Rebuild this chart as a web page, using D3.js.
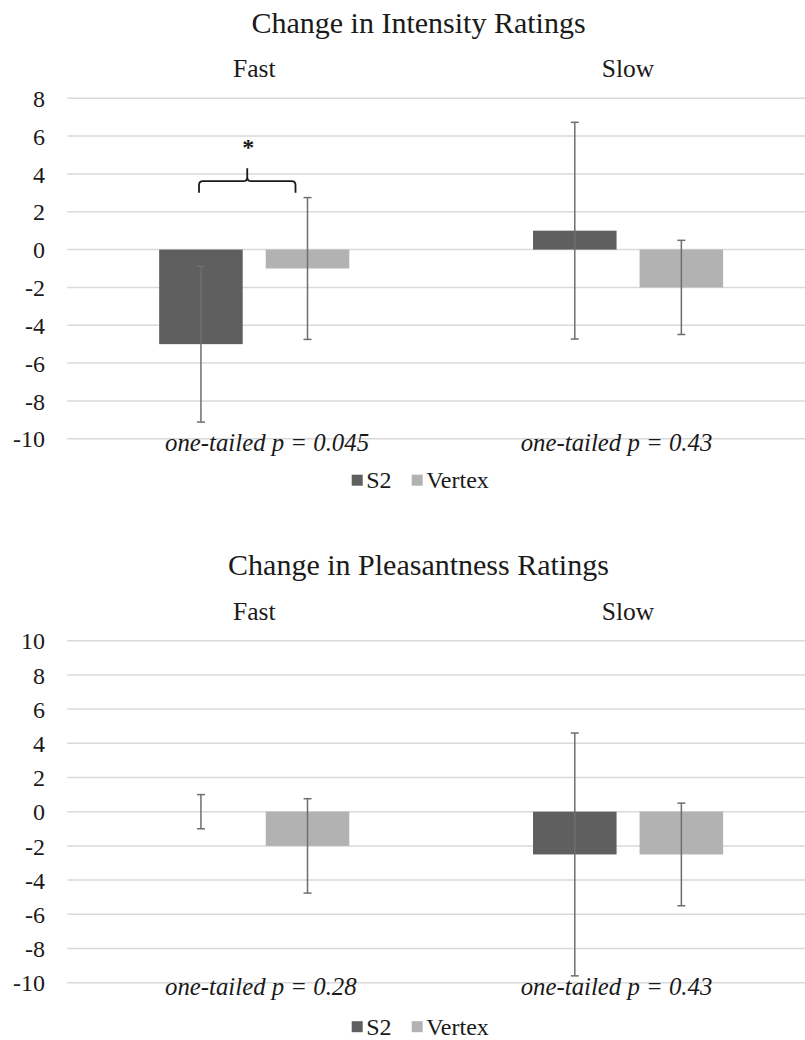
<!DOCTYPE html>
<html>
<head>
<meta charset="utf-8">
<script src="https://cdn.jsdelivr.net/npm/d3@7"></script>
<style>
	body { margin: 0; background: #fff; }
	svg { display: block; }
</style>
</head>
<body>
<div id="chart"></div>
<script>
"use strict";

// values
var categories = ["Fast", "Slow"];
var series = ["S2", "Vertex"];

var intensityTicks = [-10, -8, -6, -4, -2, 0, 2, 4, 6, 8];
var intensityS2 = [-5, 1];
var intensityS2Err = [4.12, 5.73];
var intensityVertex = [-1, -2];
var intensityVertexErr = [3.75, 2.49];
var intensityP = ["one-tailed p = 0.045", "one-tailed p = 0.43"];

var pleasantTicks = [-10, -8, -6, -4, -2, 0, 2, 4, 6, 8, 10];
var pleasantS2 = [0, -2.5];
var pleasantS2Err = [1, 7.1];
var pleasantVertex = [-2, -2.5];
var pleasantVertexErr = [2.76, 3.0];
var pleasantP = ["one-tailed p = 0.28", "one-tailed p = 0.43"];

var colors = {"S2": "#5f5f5f", "Vertex": "#b2b2b2"};
var serif = "'Liberation Serif', 'Times New Roman', serif";

var svg = d3.select("#chart").append("svg")
	.attr("width", 805).attr("height", 1040)
	.attr("font-family", serif);

function drawPanel(opt) {
	var g = svg.append("g");

	var y = d3.scaleLinear().domain([opt.ticks[0], opt.ticks[opt.ticks.length - 1]])
		.range([opt.bottom, opt.top]);
	var x0 = d3.scaleBand().domain(categories).range([67.3, 815]).padding(0);
	var x1 = d3.scaleBand().domain(series).range([0, x0.bandwidth()])
		.paddingInner(0.216).paddingOuter(0.862);

	// gridlines
	g.selectAll(".grid")
		.data(opt.ticks)
		.enter().append("line")
		.attr("x1", 67.3).attr("x2", 805)
		.attr("y1", function(d) { return y(d); })
		.attr("y2", function(d) { return y(d); })
		.attr("stroke", "#d9d9d9")
		.attr("stroke-width", 1.5);

	// y axis labels (plain hyphen minus like the original)
	var axis = g.append("g")
		.attr("transform", "translate(45,0)")
		.call(d3.axisLeft(y).tickValues(opt.ticks).tickSize(0).tickPadding(0)
			.tickFormat(function(d) { return String(d); }));
	axis.attr("font-family", serif).attr("font-size", 24);
	axis.select(".domain").remove();
	axis.selectAll("text")
		.attr("fill", "#1a1a1a")
		.attr("dy", "0.34em");

	// title
	g.append("text")
		.attr("x", 418.5).attr("y", opt.titleY)
		.attr("text-anchor", "middle")
		.attr("font-size", 30)
		.attr("fill", "#1a1a1a")
		.text(opt.title);

	// category labels along the top
	g.selectAll(".cat")
		.data(categories)
		.enter().append("text")
		.attr("x", function(d) { return x0(d) + x0.bandwidth() / 2; })
		.attr("y", y(opt.ticks[opt.ticks.length - 1]) - 21)
		.attr("text-anchor", "middle")
		.attr("font-size", 25.5)
		.attr("fill", "#1a1a1a")
		.text(function(d) { return d; });

	var rows = [];
	categories.forEach(function(c, i) {
		rows.push({cat: c, s: "S2", v: opt.s2[i], e: opt.s2Err[i]});
		rows.push({cat: c, s: "Vertex", v: opt.vx[i], e: opt.vxErr[i]});
	});

	var grp = g.selectAll(".bar")
		.data(rows)
		.enter().append("g")
		.attr("transform", function(d) { return "translate(" + x0(d.cat) + ",0)"; });

	grp.append("rect")
		.attr("x", function(d) { return x1(d.s); })
		.attr("width", x1.bandwidth())
		.attr("y", function(d) { return y(Math.max(0, d.v)); })
		.attr("height", function(d) { return Math.abs(y(d.v) - y(0)); })
		.attr("fill", function(d) { return colors[d.s]; });

	// error bars
	var cx = function(d) { return x1(d.s) + x1.bandwidth() / 2; };
	grp.append("line")
		.attr("x1", cx).attr("x2", cx)
		.attr("y1", function(d) { return y(d.v + d.e); })
		.attr("y2", function(d) { return y(d.v - d.e); })
		.attr("stroke", "#6e6e6e").attr("stroke-width", 1.5);
	[1, -1].forEach(function(sign) {
		grp.append("line")
			.attr("x1", function(d) { return cx(d) - 4; })
			.attr("x2", function(d) { return cx(d) + 4; })
			.attr("y1", function(d) { return y(d.v + sign * d.e); })
			.attr("y2", function(d) { return y(d.v + sign * d.e); })
			.attr("stroke", "#6e6e6e").attr("stroke-width", 1.5);
	});

	// p value notes (placed by hand in the original)
	g.selectAll(".pval")
		.data(opt.pvals)
		.enter().append("text")
		.attr("x", function(d, i) { return i === 0 ? 165 : 520.7; })
		.attr("y", y(opt.ticks[0]) + 12.5)
		.attr("font-size", 24.8)
		.attr("font-style", "italic")
		.attr("fill", "#1a1a1a")
		.text(function(d) { return d; });

	// legend
	var ly = y(opt.ticks[0]) + opt.legendOff;
	var leg = g.selectAll(".leg")
		.data(series)
		.enter().append("g")
		.attr("transform", function(d, i) { return "translate(" + (i === 0 ? 351.7 : 411.7) + "," + ly + ")"; });
	leg.append("rect")
		.attr("x", 0).attr("y", -5.5)
		.attr("width", 11).attr("height", 11)
		.attr("fill", function(d) { return colors[d]; });
	leg.append("text")
		.attr("x", 14.5).attr("y", 8)
		.attr("font-size", 24)
		.attr("fill", "#1a1a1a")
		.text(function(d) { return d; });

	return {g: g, y: y, x0: x0, x1: x1};
}

var intensityPanel = drawPanel({
	title: "Change in Intensity Ratings", titleY: 33,
	ticks: intensityTicks, top: 98.3, bottom: 438.7,
	s2: intensityS2, s2Err: intensityS2Err,
	vx: intensityVertex, vxErr: intensityVertexErr,
	pvals: intensityP, legendOff: 41.5
});

drawPanel({
	title: "Change in Pleasantness Ratings", titleY: 575,
	ticks: pleasantTicks, top: 640.7, bottom: 982.7,
	s2: pleasantS2, s2Err: pleasantS2Err,
	vx: pleasantVertex, vxErr: pleasantVertexErr,
	pvals: pleasantP, legendOff: 44
});

// significance bracket over the Fast pair
var ty = intensityPanel.y;
var bx0 = 199, bx1 = 295.5, bm = (bx0 + bx1) / 2;
var yEnd = ty(3), yBar = ty(3.62), yPeak = ty(4.3);
var r = 4;
var bracket = d3.path();
bracket.moveTo(bx0, yEnd);
bracket.lineTo(bx0, yBar + r);
bracket.quadraticCurveTo(bx0, yBar, bx0 + r, yBar);
bracket.lineTo(bm - r, yBar);
bracket.quadraticCurveTo(bm, yBar, bm, yBar - r);
bracket.lineTo(bm, yPeak);
bracket.moveTo(bm, yBar - r);
bracket.quadraticCurveTo(bm, yBar, bm + r, yBar);
bracket.lineTo(bx1 - r, yBar);
bracket.quadraticCurveTo(bx1, yBar, bx1, yBar + r);
bracket.lineTo(bx1, yEnd);

intensityPanel.g.append("path")
	.attr("d", bracket.toString())
	.attr("fill", "none")
	.attr("stroke", "#1a1a1a")
	.attr("stroke-width", 1.8);

intensityPanel.g.append("text")
	.attr("x", bm + 1).attr("y", ty(5.5) + 9)
	.attr("text-anchor", "middle")
	.attr("font-size", 24)
	.attr("font-weight", "bold")
	.attr("fill", "#1a1a1a")
	.text("*");
</script>
</body>
</html>
